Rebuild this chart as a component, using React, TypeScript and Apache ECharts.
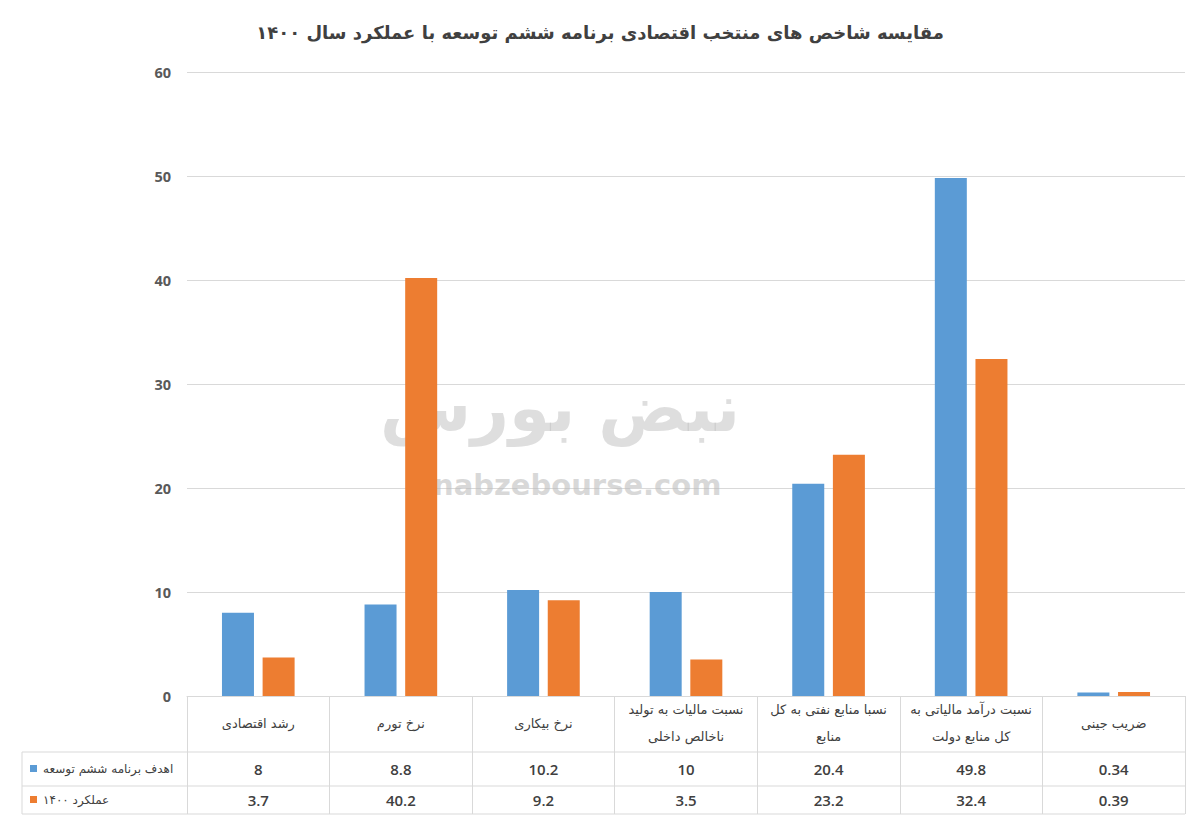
import React, { useEffect, useRef } from "react";
import * as echarts from "echarts";

const chartTitle = "مقایسه شاخص های منتخب اقتصادی برنامه ششم توسعه با عملکرد سال ۱۴۰۰";
const categories = [
  "رشد اقتصادی",
  "نرخ تورم",
  "نرخ بیکاری",
  "نسبت مالیات به تولید ناخالص داخلی",
  "نسبا منابع نفتی به کل منابع",
  "نسبت درآمد مالیاتی به کل منابع دولت",
  "ضریب جینی",
];
const seriesNames = ["اهدف برنامه ششم توسعه", "عملکرد ۱۴۰۰"];
const targetValues = [8, 8.8, 10.2, 10, 20.4, 49.8, 0.34];
const actualValues = [3.7, 40.2, 9.2, 3.5, 23.2, 32.4, 0.39];
const yMin = 0;
const yMax = 60;
const yInterval = 10;
const watermarkFa = "نبض بورس";
const watermarkEn = "nabzebourse.com";

const COLORS = ["#5B9BD5", "#ED7D31"];
const GRID = { left: 187, right: 15, top: 72, bottom: 127 };
const FA_FONT = "'DejaVu Sans', sans-serif";
const NUM_FONT = "'Open Sans', 'Noto Sans', sans-serif";
const WRAP_CHARS = 22;

function wrapLabel(s: string): string {
  const words = s.split(" ");
  const lines: string[] = [];
  let cur = "";
  for (const w of words) {
    const next = cur ? cur + " " + w : w;
    if (next.length > WRAP_CHARS && cur) {
      lines.push(cur);
      cur = w;
    } else {
      cur = next;
    }
  }
  if (cur) lines.push(cur);
  return lines.join("\n");
}

export default function App() {
  const ref = useRef<HTMLDivElement>(null);
  useEffect(() => {
    if (!ref.current) return;
    const chart = echarts.init(ref.current, null, { renderer: "svg" });
    const W = 1200;
    const H = 823;
    const axisY = H - GRID.bottom; // 696
    const rowLines = [752, 786, 814];
    const tableLeft = 22;
    const tableRight = W - GRID.right;

    const option: any = {
      animation: false,
      backgroundColor: "#ffffff",
      title: {
        text: chartTitle,
        left: "center",
        top: 18,
        textStyle: { fontFamily: FA_FONT, fontSize: 18, fontWeight: "bold", color: "#404040" },
      },
      grid: { ...GRID },
      xAxis: {
        type: "category",
        data: categories,
        axisLine: { show: true, lineStyle: { color: "#d9d9d9", width: 1 } },
        axisTick: { show: true, length: rowLines[2] - axisY, lineStyle: { color: "#d9d9d9" } },
        axisLabel: {
          interval: 0,
          margin: 27,
          lineHeight: 27,
          verticalAlign: "middle",
          formatter: (v: string) => wrapLabel(v),
          fontFamily: FA_FONT,
          fontSize: 13,
          color: "#404040",
        },
      },
      yAxis: {
        type: "value",
        min: yMin,
        max: yMax,
        interval: yInterval,
        axisLine: { show: false },
        axisTick: { show: false },
        splitLine: { lineStyle: { color: "#d9d9d9", width: 1 } },
        axisLabel: {
          margin: 16,
          fontFamily: NUM_FONT,
          fontSize: 14.5,
          fontWeight: "bold",
          color: "#595959",
        },
      },
      series: [
        {
          name: seriesNames[0],
          type: "bar",
          data: targetValues,
          barWidth: 32,
          barGap: "27%",
          itemStyle: { color: COLORS[0] },
          z: 3,
        },
        {
          name: seriesNames[1],
          type: "bar",
          data: actualValues,
          barWidth: 32,
          barGap: "27%",
          itemStyle: { color: COLORS[1] },
          z: 3,
        },
      ],
    };
    chart.setOption(option);

    const graphics: any[] = [];
    graphics.push({
      type: "text",
      left: 380,
      top: 375,
      z: 1,
      style: { text: watermarkFa, font: `bold 66px ${FA_FONT}`, fill: "rgba(190,190,190,0.5)" },
    });
    graphics.push({
      type: "text",
      left: 433,
      top: 470,
      z: 1,
      style: { text: watermarkEn, font: `bold 29px 'DejaVu Sans', sans-serif`, fill: "rgba(190,190,190,0.6)" },
    });
    rowLines.forEach((y) => {
      graphics.push({
        type: "line",
        shape: { x1: tableLeft, y1: y, x2: tableRight, y2: y },
        style: { stroke: "#d9d9d9", lineWidth: 1 },
      });
    });
    graphics.push({
      type: "line",
      shape: { x1: tableLeft, y1: rowLines[0], x2: tableLeft, y2: rowLines[2] },
      style: { stroke: "#d9d9d9", lineWidth: 1 },
    });
    const rows = [targetValues, actualValues];
    rows.forEach((vals, r) => {
      const yc = (rowLines[r] + rowLines[r + 1]) / 2;
      graphics.push({
        type: "rect",
        shape: { x: 30, y: yc - 4, width: 7, height: 7 },
        style: { fill: COLORS[r] },
      });
      graphics.push({
        type: "text",
        x: 43,
        y: yc,
        style: {
          text: seriesNames[r],
          fontFamily: FA_FONT,
          fontSize: 12,
          fill: "#404040",
          align: "left",
          verticalAlign: "middle",
        },
      });
      vals.forEach((v, i) => {
        const x = chart.convertToPixel({ xAxisIndex: 0 }, i) as unknown as number;
        graphics.push({
          type: "text",
          x,
          y: yc,
          style: {
            text: String(v),
            fontFamily: NUM_FONT,
            fontSize: 15,
            fontWeight: 600,
            fill: "#404040",
            align: "center",
            verticalAlign: "middle",
          },
        });
      });
    });
    chart.setOption({ graphic: graphics });
    return () => chart.dispose();
  }, []);
  return <div ref={ref} style={{ width: 1200, height: 823, position: "absolute", left: 0, top: 0 }} />;
}
